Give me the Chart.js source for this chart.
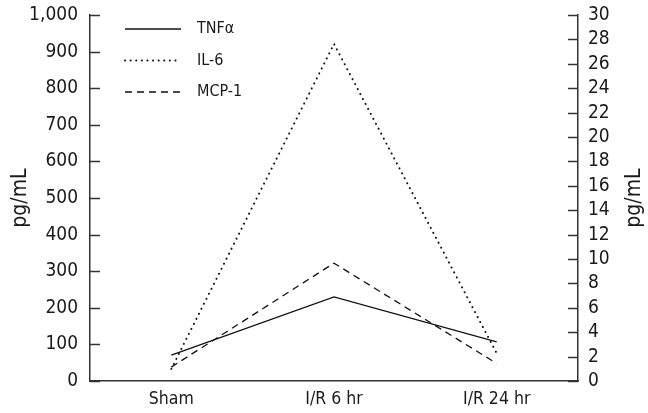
<!DOCTYPE html>
<html>
<head>
<meta charset="utf-8">
<script src="https://cdn.jsdelivr.net/npm/chart.js@4/dist/chart.umd.min.js"></script>
<style>
  html, body { margin: 0; padding: 0; background: #fff; }
  #wrap { width: 648px; height: 413px; }
</style>
</head>
<body>
<div id="wrap"><canvas id="myChart" width="648" height="413"></canvas></div>
<script>
// values (left axis, pg/mL)
const groups = ["Sham", "I/R 6 hr", "I/R 24 hr"];
const tnf = [71, 230, 107];
const il6 = [33, 921, 76];
const mcp = [38, 322, 48];
const leftTicks = [0, 1000, 100];
const rightTicks = [0, 30, 2];

const FONT = "'DejaVu Sans Condensed', 'Liberation Sans Narrow', 'Liberation Sans', sans-serif";
const AXIS = "#333333";
const TEXT = "#1a1a1a";

// ticks in this chart point into the plot, so draw them ourselves
const innerTicks = {
	id: "innerTicks",
	afterDraw(chart) {
		const ctx = chart.ctx;
		ctx.save();
		ctx.strokeStyle = AXIS;
		ctx.lineWidth = 1.5;
		for (const id of ["y", "y1"]) {
			const scale = chart.scales[id];
			const x0 = id === "y" ? scale.right : scale.left;
			const dir = id === "y" ? 1 : -1;
			for (const t of scale.ticks) {
				const py = Math.round(scale.getPixelForValue(t.value)) + 0.5;
				ctx.beginPath();
				ctx.moveTo(x0, py);
				ctx.lineTo(x0 + dir * 10, py);
				ctx.stroke();
			}
		}
		// right axis title reads bottom to top like the left one
		const r = chart.scales.y1;
		ctx.fillStyle = TEXT;
		ctx.font = "21px " + FONT;
		ctx.textAlign = "center";
		ctx.textBaseline = "middle";
		ctx.translate(r.right - 13, (r.top + r.bottom) / 2);
		ctx.rotate(-Math.PI / 2);
		ctx.fillText("pg/mL", 0, 0);
		ctx.restore();
	},
};

// legend sits inside the plot, top left, with long line samples
const innerLegend = {
	id: "innerLegend",
	afterDraw(chart) {
		const ctx = chart.ctx;
		const area = chart.chartArea;
		ctx.save();
		ctx.font = "16px " + FONT;
		ctx.textBaseline = "middle";
		chart.data.datasets.forEach((ds, i) => {
			const y = area.top + 14 + i * 31.5;
			ctx.strokeStyle = ds.borderColor;
			ctx.lineWidth = ds.borderWidth;
			ctx.lineCap = ds.borderCapStyle || "butt";
			ctx.setLineDash(ds.borderDash || []);
			ctx.beginPath();
			ctx.moveTo(area.left + 35, y);
			ctx.lineTo(area.left + 91, y);
			ctx.stroke();
			ctx.setLineDash([]);
			ctx.fillStyle = TEXT;
			ctx.fillText(ds.label, area.left + 107, y);
		});
		ctx.restore();
	},
};

function fixVertical(width) {
	return (scale) => {
		scale.width = width;
		scale.paddingTop = 0;
		scale.paddingBottom = 0;
	};
}

new Chart(document.querySelector("#myChart"), {
	type: "line",
	data: {
		labels: groups,
		datasets: [
			{label: "TNF\u03b1", data: tnf, borderColor: "#111", borderWidth: 1.3, pointRadius: 0, tension: 0},
			{label: "IL-6", data: il6, borderColor: "#111", borderWidth: 2, borderDash: [0.1, 5.5], borderCapStyle: "round", pointRadius: 0, tension: 0},
			{label: "MCP-1", data: mcp, borderColor: "#111", borderWidth: 1.3, borderDash: [7, 5], pointRadius: 0, tension: 0},
		],
	},
	options: {
		responsive: false,
		animation: false,
		layout: {padding: {top: 15, right: 0, bottom: 0, left: 0}},
		plugins: {legend: {display: false}, tooltip: {enabled: false}},
		scales: {
			x: {
				type: "category",
				offset: true,
				grid: {display: false, drawTicks: false},
				border: {display: true, color: AXIS, width: 1.5},
				ticks: {color: TEXT, font: {family: FONT, size: 17.5}, padding: 8},
				afterFit(scale) { scale.height = 32; },
			},
			y: {
				position: "left",
				min: leftTicks[0],
				max: leftTicks[1],
				grid: {display: false, drawTicks: false},
				border: {display: true, color: AXIS, width: 1.5},
				ticks: {
					stepSize: leftTicks[2],
					autoSkip: false,
					color: TEXT,
					font: {family: FONT, size: 19},
					padding: 12,
					callback: (v) => v.toLocaleString("en-US"),
				},
				title: {display: true, text: "pg/mL", color: TEXT, font: {family: FONT, size: 21}, padding: {top: 8, bottom: 0}},
				afterFit: fixVertical(90),
			},
			y1: {
				position: "right",
				display: true,
				min: rightTicks[0],
				max: rightTicks[1],
				grid: {display: false, drawTicks: false},
				border: {display: true, color: AXIS, width: 1.5},
				ticks: {
					stepSize: rightTicks[2],
					autoSkip: false,
					color: TEXT,
					font: {family: FONT, size: 19},
					padding: 10,
				},
				afterFit: fixVertical(70),
			},
		},
	},
	plugins: [innerTicks, innerLegend],
});
</script>
</body>
</html>
